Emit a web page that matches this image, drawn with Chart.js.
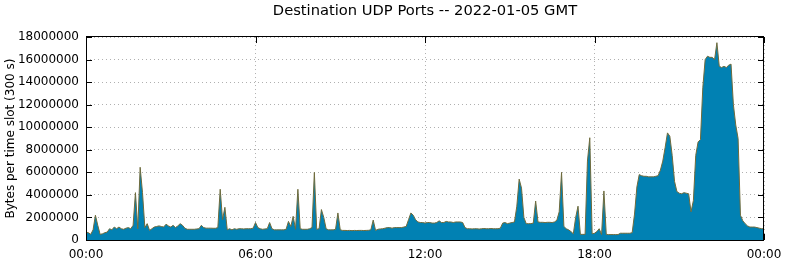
<!DOCTYPE html>
<html>
<head>
<meta charset="utf-8">
<script src="https://cdn.jsdelivr.net/npm/chart.js@4/dist/chart.umd.min.js"></script>
<style>
  html, body { margin: 0; padding: 0; background: #fff; }
  #wrap { width: 785px; height: 264px; }
</style>
</head>
<body>
<div id="wrap"><canvas id="c" width="785" height="264"></canvas></div>
<script>
// ---- Data (5-minute slots, 00:00 .. 24:00) ----
const chartTitle = 'Destination UDP Ports -- 2022-01-05 GMT';
const yAxisTitle = 'Bytes per time slot (300 s)';
const slotMinutes = 5;
const xTickLabels = ['00:00', '06:00', '12:00', '18:00', '00:00'];
const yTicks = [0, 2000000, 4000000, 6000000, 8000000, 10000000, 12000000, 14000000, 16000000, 18000000];

// bytes per slot, in millions
const udpBytesMillions = [
  0.7, 0.65, 0.5, 0.9, 2.2, 1.3, 0.5, 0.55, 0.65, 0.7,
  1.0, 0.9, 1.15, 1.0, 1.15, 1.0, 0.95, 1.05, 1.1, 1.0,
  1.3, 4.2, 1.0, 6.45, 4.2, 1.1, 1.45, 0.85, 1.0, 1.15,
  1.2, 1.25, 1.2, 1.15, 1.4, 1.25, 1.15, 1.3, 1.1, 1.25,
  1.45, 1.3, 1.05, 0.95, 0.95, 0.95, 0.95, 0.98, 1.0, 1.3,
  1.1, 1.05, 1.05, 1.05, 1.04, 1.04, 1.1, 4.5, 1.8, 2.9,
  0.9, 1.0, 0.9, 1.0, 0.95, 1.0, 1.0, 0.98, 1.0, 1.0,
  1.0, 1.05, 1.55, 1.1, 1.0, 0.95, 0.98, 1.0, 1.55, 1.0,
  0.9, 0.9, 0.9, 0.9, 0.9, 0.95, 1.65, 1.2, 2.1, 0.95,
  4.5, 1.0, 0.95, 0.95, 0.95, 1.0, 1.1, 6.0, 0.95, 1.0,
  2.7, 2.0, 1.0, 0.9, 0.9, 0.9, 0.95, 2.4, 0.9, 0.85,
  0.85, 0.84, 0.85, 0.83, 0.85, 0.84, 0.85, 0.85, 0.84, 0.85,
  0.86, 0.9, 1.77, 0.85, 0.95, 0.98, 1.0, 1.05, 1.1, 1.1,
  1.05, 1.1, 1.1, 1.1, 1.1, 1.15, 1.2, 1.8, 2.4, 2.2,
  1.8, 1.6, 1.55, 1.55, 1.5, 1.55, 1.55, 1.5, 1.5, 1.55,
  1.7, 1.55, 1.55, 1.65, 1.6, 1.6, 1.55, 1.6, 1.6, 1.6,
  1.55, 1.1, 1.0, 1.0, 0.98, 1.0, 1.0, 0.97, 1.0, 1.02,
  1.0, 1.0, 1.02, 1.0, 1.0, 1.0, 1.05, 1.5, 1.55, 1.45,
  1.5, 1.55, 1.6, 3.0, 5.4, 4.6, 2.0, 1.45, 1.45, 1.45,
  1.5, 3.46, 1.6, 1.57, 1.57, 1.55, 1.57, 1.57, 1.55, 1.6,
  1.75, 2.5, 6.0, 1.2, 1.0, 0.9, 0.75, 0.55, 2.0, 3.0,
  0.5, 0.5, 0.5, 7.0, 9.07, 0.55, 0.6, 0.75, 1.0, 0.48,
  4.35, 0.5, 0.48, 0.48, 0.48, 0.48, 0.48, 0.6, 0.6, 0.6,
  0.6, 0.6, 0.65, 2.3, 4.7, 5.8, 5.7, 5.65, 5.65, 5.6,
  5.6, 5.6, 5.65, 5.7, 6.2, 7.0, 8.2, 9.5, 9.2, 7.5,
  5.2, 4.3, 4.15, 4.1, 4.2, 4.15, 4.1, 2.5, 3.5, 7.5,
  8.7, 8.9, 13.5, 16.0, 16.3, 16.2, 16.2, 16.0, 17.5, 15.4,
  15.3, 15.4, 15.3, 15.5, 15.6, 12.0, 10.2, 9.0, 2.2, 1.7,
  1.45, 1.25, 1.15, 1.15, 1.15, 1.1, 1.05, 1.0, 1.0
];

// ---- Build chart ----
const points = udpBytesMillions.map((v, i) => ({ x: i * slotMinutes / 60, y: v * 1e6 }));
const FONT = "'DejaVu Sans', 'Liberation Sans', sans-serif";

const framePlugin = {
  id: 'frame',
  beforeDatasetsDraw(chart) {
    const { ctx, chartArea: a, scales } = chart;
    const L = 6;
    ctx.save();
    ctx.strokeStyle = '#000';
    ctx.lineWidth = 1;
    ctx.beginPath();
    scales.y.ticks.forEach(t => {
      const y = Math.round(scales.y.getPixelForValue(t.value)) + 0.5;
      ctx.moveTo(a.left, y); ctx.lineTo(a.left + L, y);
      ctx.moveTo(a.right, y); ctx.lineTo(a.right - L, y);
    });
    scales.x.ticks.forEach(t => {
      const x = Math.round(scales.x.getPixelForValue(t.value)) + 0.5;
      ctx.moveTo(x, a.top); ctx.lineTo(x, a.top + L);
      ctx.moveTo(x, a.bottom); ctx.lineTo(x, a.bottom - L);
    });
    ctx.stroke();
    ctx.restore();
  },
  afterDatasetsDraw(chart) {
    const { ctx, chartArea: a } = chart;
    ctx.save();
    ctx.strokeStyle = '#000';
    ctx.lineWidth = 1;
    ctx.strokeRect(Math.round(a.left) + 0.5, Math.round(a.top) - 0.5,
                   Math.round(a.right - a.left) - 1, Math.round(a.bottom - a.top) + 1);
    ctx.restore();
  }
};

new Chart(document.getElementById('c'), {
  type: 'line',
  data: {
    datasets: [{
      label: 'UDP',
      data: points,
      fill: 'origin',
      backgroundColor: '#0181b3',
      borderColor: '#6f6b3c',
      borderWidth: 1,
      pointRadius: 0,
      tension: 0
    }]
  },
  options: {
    responsive: false,
    animation: false,
    devicePixelRatio: 1,
    layout: { padding: { left: 0, right: 21, top: 0, bottom: 0 } },
    plugins: {
      legend: { display: false },
      tooltip: { enabled: false },
      title: {
        display: true,
        text: chartTitle,
        fullSize: false,
        color: '#000',
        font: { family: FONT, size: 14.7, weight: 'normal', lineHeight: 1.2 },
        padding: { top: 2, bottom: 17.4 }
      }
    },
    scales: {
      x: {
        type: 'linear',
        min: 0, max: 24,
        afterBuildTicks: s => { s.ticks = [0, 6, 12, 18, 24].map(v => ({ value: v })); },
        afterFit: s => { s.height = 24; s.paddingLeft = 0; s.paddingRight = 0; },
        ticks: {
          color: '#000',
          font: { family: FONT, size: 12 },
          padding: 8,
          maxRotation: 0,
          callback: (v) => xTickLabels[Math.round(v / 6)]
        },
        grid: { color: '#b0b0b0', lineWidth: 1, drawTicks: false },
        border: { display: false, dash: [1, 3] }
      },
      y: {
        min: 0, max: 18000000,
        afterBuildTicks: s => { s.ticks = yTicks.map(v => ({ value: v })); },
        afterFit: s => { s.width = 86; },
        ticks: {
          color: '#000',
          font: { family: FONT, size: 12 },
          padding: 7,
          callback: (v) => String(v)
        },
        title: {
          display: true,
          text: yAxisTitle,
          color: '#000',
          font: { family: FONT, size: 12 },
          padding: { top: 4, bottom: 0 }
        },
        grid: { color: '#b0b0b0', lineWidth: 1, drawTicks: false },
        border: { display: false, dash: [1, 3] }
      }
    }
  },
  plugins: [framePlugin]
});
</script>
</body>
</html>
